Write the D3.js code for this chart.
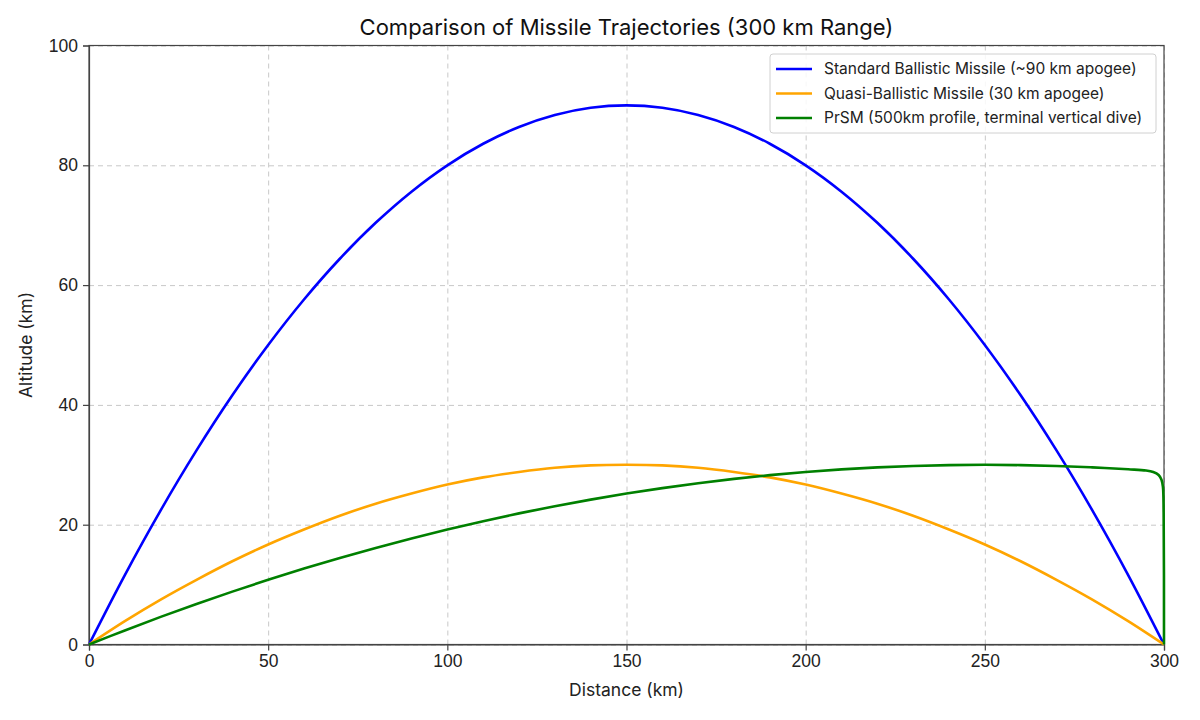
<!DOCTYPE html>
<html>
<head>
<meta charset="utf-8">
<script src="https://cdn.jsdelivr.net/npm/d3@7"></script>
<style>
    body { margin: 0; background: #fff; }
    svg { font-family: "Inter", "Open Sans", sans-serif; }
    .grid line { stroke: #c8c8c8; stroke-dasharray: 5,4; stroke-width: 1; }
    .grid .domain { display: none; }
    .axis text { font-size: 17.5px; fill: #222; }
    .axis line, .axis path { stroke: #444; stroke-width: 1.2; }
</style>
</head>
<body>
<svg id="chart" width="1200" height="720"></svg>
<script>
// distances (km) sampled along the ballistic arcs
var distance = [0, 10, 20, 30, 40, 50, 60, 70, 80, 90, 100, 110, 120, 130, 140, 150,
    160, 170, 180, 190, 200, 210, 220, 230, 240, 250, 260, 270, 280, 290, 300];

// altitude (km)
var standardAlt = [0, 11.6, 22.4, 32.4, 41.6, 50, 57.6, 64.4, 70.4, 75.6, 80, 83.6, 86.4, 88.4, 89.6, 90,
    89.6, 88.4, 86.4, 83.6, 80, 75.6, 70.4, 64.4, 57.6, 50, 41.6, 32.4, 22.4, 11.6, 0];
var quasiAlt = [0, 3.9, 7.5, 10.8, 13.9, 16.7, 19.2, 21.5, 23.5, 25.2, 26.7, 27.9, 28.8, 29.5, 29.9, 30,
    29.9, 29.5, 28.8, 27.9, 26.7, 25.2, 23.5, 21.5, 19.2, 16.7, 13.9, 10.8, 7.5, 3.9, 0];

// PrSM profile has its own samples because of the terminal dive
var prsmDistance = [0, 10, 20, 30, 40, 50, 60, 70, 80, 90, 100, 110, 120, 130, 140, 150,
    160, 170, 180, 190, 200, 210, 220, 230, 240, 250, 260, 270, 280, 290, 295, 297, 298.5, 299.3, 299.7, 299.9, 300];
var prsmAlt = [0, 2.35, 4.61, 6.77, 8.83, 10.8, 12.67, 14.45, 16.13, 17.71, 19.2, 20.59, 21.89, 23.09, 24.19, 25.2,
    26.11, 26.93, 27.65, 28.27, 28.8, 29.23, 29.57, 29.81, 29.95, 30, 29.95, 29.81, 29.57, 29.25, 29.05, 28.8, 28.3, 27.5, 26.3, 22, 0];

var xTicks = [0, 50, 100, 150, 200, 250, 300];
var yTicks = [0, 20, 40, 60, 80, 100];

var series = [
    {name: "Standard Ballistic Missile (~90 km apogee)", color: "#0000ff", x: distance, y: standardAlt},
    {name: "Quasi-Ballistic Missile (30 km apogee)", color: "#ffa500", x: distance, y: quasiAlt},
    {name: "PrSM (500km profile, terminal vertical dive)", color: "#008000", x: prsmDistance, y: prsmAlt}
];

var margin = {top: 45.5, left: 89, right: 36, bottom: 75.5};
var width = 1200 - margin.left - margin.right;
var height = 720 - margin.top - margin.bottom;

var svg = d3.select("#chart");
var g = svg.append("g")
    .attr("transform", "translate(" + margin.left + "," + margin.top + ")");

var xScale = d3.scaleLinear().domain([0, 300]).range([0, width]);
var yScale = d3.scaleLinear().domain([0, 100]).range([height, 0]);

// grid
g.append("g")
    .attr("class", "grid")
    .attr("transform", "translate(0," + height + ")")
    .call(d3.axisBottom(xScale).tickValues(xTicks).tickSize(-height).tickFormat(""));
g.append("g")
    .attr("class", "grid")
    .call(d3.axisLeft(yScale).tickValues(yTicks).tickSize(-width).tickFormat(""));

// frame
g.append("rect")
    .attr("width", width)
    .attr("height", height)
    .attr("fill", "none")
    .attr("stroke", "#444")
    .attr("stroke-width", 1.2);

// axes
g.append("g")
    .attr("class", "axis")
    .attr("transform", "translate(0," + height + ")")
    .call(d3.axisBottom(xScale).tickValues(xTicks).tickSize(6).tickPadding(4));
g.append("g")
    .attr("class", "axis")
    .call(d3.axisLeft(yScale).tickValues(yTicks).tickSize(6).tickPadding(5));

// trajectories
var line = d3.line()
    .x(function (d) { return xScale(d[0]); })
    .y(function (d) { return yScale(d[1]); })
    .curve(d3.curveCatmullRom.alpha(0.5));

series.forEach(function (s) {
    g.append("path")
        .datum(d3.zip(s.x, s.y))
        .attr("fill", "none")
        .attr("stroke", s.color)
        .attr("stroke-width", 2.6)
        .attr("stroke-linejoin", "round")
        .attr("d", line);
});

// titles
svg.append("text")
    .attr("x", margin.left + width / 2)
    .attr("y", 35)
    .attr("text-anchor", "middle")
    .style("font-size", "22px")
    .style("fill", "#111")
    .text("Comparison of Missile Trajectories (300 km Range)");

svg.append("text")
    .attr("x", margin.left + width / 2)
    .attr("y", 696)
    .attr("text-anchor", "middle")
    .style("font-size", "17.5px")
    .style("fill", "#222")
    .text("Distance (km)");

svg.append("text")
    .attr("transform", "translate(32," + (margin.top + height / 2) + ") rotate(-90)")
    .attr("text-anchor", "middle")
    .style("font-size", "17.5px")
    .style("fill", "#222")
    .text("Altitude (km)");

// legend
var legend = svg.append("g").attr("transform", "translate(770,54)");
legend.append("rect")
    .attr("width", 386)
    .attr("height", 79)
    .attr("rx", 3)
    .attr("fill", "#fff")
    .attr("fill-opacity", 0.85)
    .attr("stroke", "#d0d0d0");

var item = legend.selectAll(".item")
    .data(series)
    .enter()
    .append("g")
    .attr("transform", function (d, i) { return "translate(0," + (15 + i * 24.5) + ")"; });
item.append("line")
    .attr("x1", 6).attr("x2", 42)
    .attr("stroke", function (d) { return d.color; })
    .attr("stroke-width", 2.6);
item.append("text")
    .attr("x", 54)
    .attr("dy", "0.35em")
    .style("font-size", "15.5px")
    .style("fill", "#222")
    .text(function (d) { return d.name; });
</script>
</body>
</html>
